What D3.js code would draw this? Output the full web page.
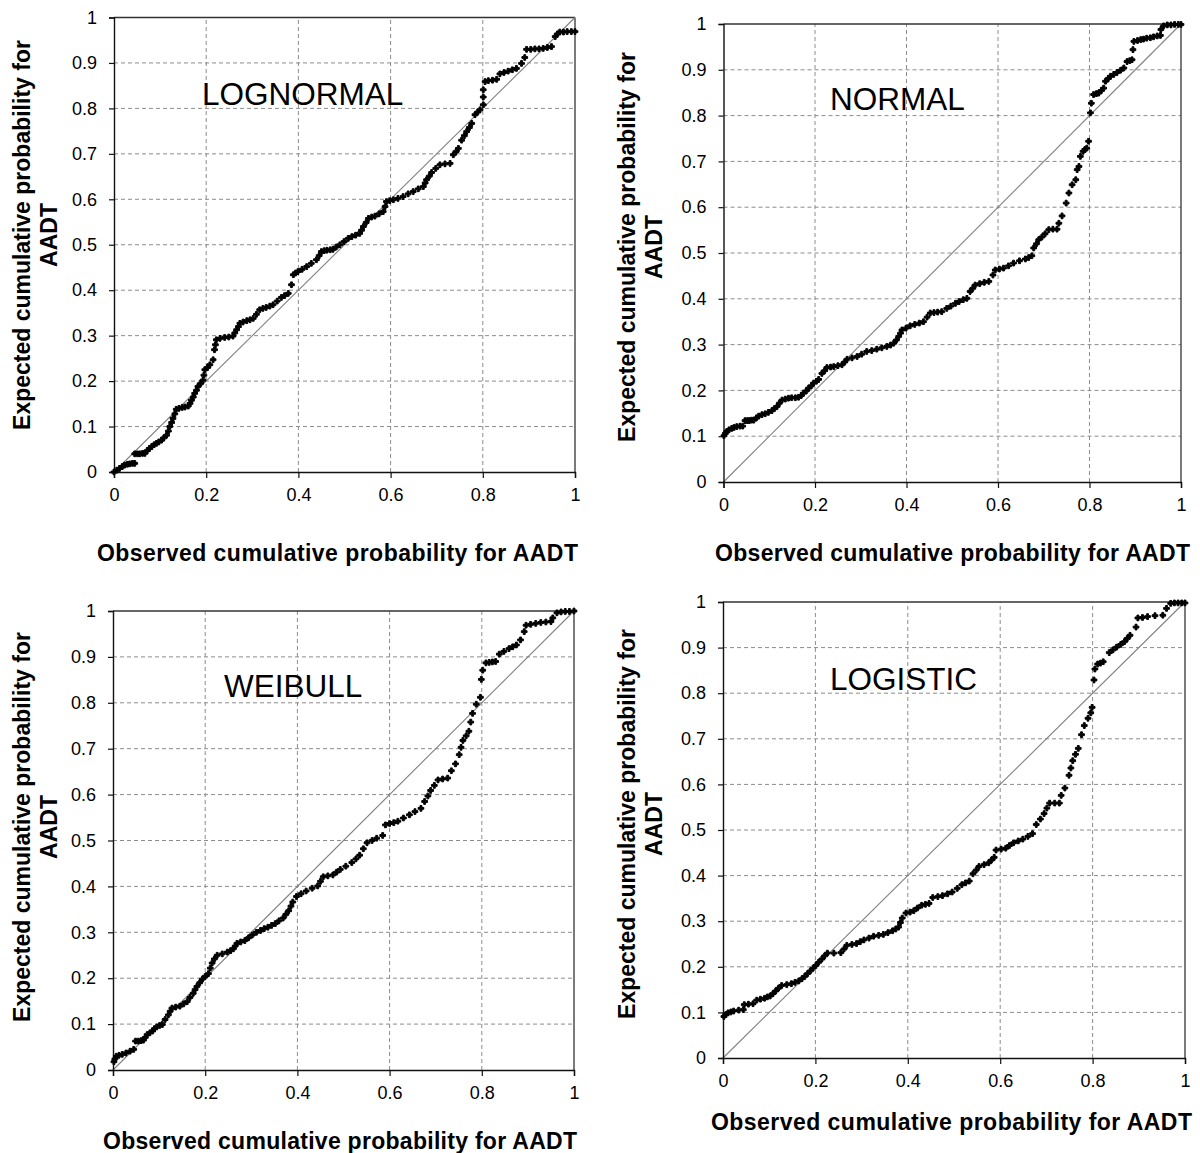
<!DOCTYPE html>
<html><head><meta charset="utf-8">
<script src="https://cdn.jsdelivr.net/npm/d3@7"></script>
<style>body{margin:0;background:#fff}svg{display:block}</style>
</head><body>
<svg id="chart" width="1200" height="1153"></svg>
<script>
// ---------- DATA ----------
const yTickLabels = ["0","0.1","0.2","0.3","0.4","0.5","0.6","0.7","0.8","0.9","1"];
const xTickLabels = ["0","0.2","0.4","0.6","0.8","1"];
const panelNames = ["LOGNORMAL","NORMAL","WEIBULL","LOGISTIC"];
const xTitle = "Observed cumulative probability for AADT";
const yTitle1 = "Expected cumulative probability for";
const yTitle2 = "AADT";

// [observed, expected]
const lognormalPoints = [[0,0],[0.006,0.004],[0.012,0.008],[0.018,0.012],[0.023,0.015],[0.029,0.017],[0.034,0.018],[0.040,0.019],[0.045,0.019],[0.045,0.040],[0.051,0.040],[0.056,0.040],[0.062,0.041],[0.067,0.041],[0.072,0.047],[0.077,0.052],[0.082,0.056],[0.087,0.060],[0.092,0.063],[0.097,0.066],[0.103,0.070],[0.108,0.075],[0.114,0.081],[0.118,0.090],[0.121,0.100],[0.125,0.109],[0.128,0.118],[0.132,0.128],[0.135,0.138],[0.141,0.140],[0.148,0.142],[0.154,0.143],[0.161,0.145],[0.165,0.151],[0.168,0.158],[0.172,0.165],[0.175,0.173],[0.179,0.180],[0.182,0.188],[0.188,0.195],[0.193,0.202],[0.195,0.213],[0.197,0.225],[0.203,0.230],[0.208,0.236],[0.215,0.247],[0.218,0.269],[0.220,0.280],[0.222,0.291],[0.230,0.294],[0.240,0.296],[0.249,0.297],[0.258,0.299],[0.262,0.306],[0.266,0.313],[0.270,0.320],[0.273,0.327],[0.280,0.330],[0.288,0.333],[0.295,0.335],[0.302,0.338],[0.309,0.347],[0.316,0.357],[0.323,0.360],[0.330,0.362],[0.338,0.365],[0.345,0.368],[0.354,0.376],[0.363,0.384],[0.370,0.388],[0.378,0.393],[0.385,0.412],[0.389,0.434],[0.394,0.438],[0.399,0.441],[0.408,0.446],[0.418,0.452],[0.428,0.459],[0.439,0.467],[0.445,0.476],[0.450,0.485],[0.456,0.487],[0.462,0.488],[0.469,0.489],[0.475,0.490],[0.482,0.495],[0.490,0.500],[0.499,0.507],[0.508,0.514],[0.516,0.518],[0.524,0.521],[0.533,0.525],[0.537,0.532],[0.541,0.540],[0.547,0.549],[0.552,0.558],[0.559,0.561],[0.566,0.563],[0.575,0.568],[0.584,0.573],[0.588,0.584],[0.591,0.595],[0.598,0.597],[0.606,0.599],[0.616,0.602],[0.627,0.606],[0.638,0.612],[0.649,0.617],[0.660,0.623],[0.671,0.628],[0.675,0.636],[0.678,0.643],[0.684,0.651],[0.689,0.659],[0.698,0.668],[0.707,0.676],[0.718,0.678],[0.729,0.679],[0.736,0.698],[0.742,0.705],[0.747,0.712],[0.754,0.730],[0.760,0.740],[0.765,0.749],[0.771,0.758],[0.776,0.767],[0.783,0.786],[0.789,0.792],[0.794,0.797],[0.801,0.808],[0.801,0.825],[0.801,0.841],[0.805,0.859],[0.812,0.861],[0.821,0.862],[0.830,0.864],[0.837,0.876],[0.846,0.879],[0.855,0.882],[0.864,0.885],[0.873,0.888],[0.884,0.899],[0.891,0.912],[0.895,0.930],[0.904,0.930],[0.913,0.931],[0.922,0.931],[0.931,0.932],[0.940,0.934],[0.949,0.936],[0.957,0.958],[0.962,0.964],[0.967,0.968],[0.975,0.968],[0.983,0.969],[0.992,0.969],[1.0,0.969]];

const normalPoints = [[0.001,0.101],[0.004,0.106],[0.007,0.110],[0.012,0.114],[0.018,0.117],[0.023,0.119],[0.029,0.121],[0.036,0.122],[0.042,0.122],[0.047,0.134],[0.052,0.134],[0.056,0.134],[0.061,0.135],[0.066,0.135],[0.072,0.140],[0.077,0.144],[0.084,0.147],[0.091,0.149],[0.098,0.152],[0.106,0.156],[0.111,0.160],[0.117,0.165],[0.122,0.172],[0.128,0.179],[0.135,0.181],[0.142,0.183],[0.149,0.184],[0.157,0.184],[0.164,0.185],[0.170,0.189],[0.175,0.194],[0.181,0.199],[0.186,0.205],[0.192,0.210],[0.197,0.216],[0.203,0.220],[0.208,0.224],[0.215,0.237],[0.221,0.243],[0.226,0.250],[0.234,0.251],[0.241,0.252],[0.250,0.254],[0.259,0.256],[0.265,0.262],[0.270,0.268],[0.281,0.271],[0.292,0.274],[0.302,0.279],[0.313,0.285],[0.324,0.287],[0.335,0.290],[0.346,0.293],[0.357,0.296],[0.365,0.299],[0.372,0.303],[0.378,0.310],[0.383,0.318],[0.387,0.325],[0.390,0.332],[0.399,0.336],[0.408,0.341],[0.418,0.344],[0.428,0.347],[0.437,0.350],[0.445,0.360],[0.452,0.369],[0.460,0.370],[0.468,0.371],[0.477,0.372],[0.488,0.379],[0.497,0.384],[0.507,0.390],[0.515,0.394],[0.524,0.398],[0.532,0.401],[0.539,0.416],[0.545,0.423],[0.550,0.430],[0.560,0.433],[0.570,0.436],[0.580,0.438],[0.589,0.452],[0.594,0.463],[0.603,0.465],[0.612,0.467],[0.623,0.472],[0.634,0.478],[0.647,0.483],[0.660,0.487],[0.667,0.490],[0.674,0.494],[0.678,0.511],[0.684,0.520],[0.689,0.529],[0.696,0.535],[0.703,0.542],[0.711,0.551],[0.720,0.552],[0.729,0.552],[0.733,0.565],[0.740,0.581],[0.749,0.609],[0.755,0.631],[0.762,0.649],[0.770,0.660],[0.773,0.682],[0.777,0.689],[0.780,0.711],[0.786,0.722],[0.790,0.726],[0.794,0.729],[0.798,0.744],[0.802,0.806],[0.804,0.827],[0.809,0.846],[0.815,0.848],[0.820,0.849],[0.826,0.855],[0.831,0.860],[0.835,0.875],[0.841,0.881],[0.846,0.886],[0.853,0.890],[0.860,0.894],[0.868,0.899],[0.875,0.904],[0.882,0.918],[0.888,0.920],[0.893,0.922],[0.895,0.944],[0.897,0.962],[0.905,0.964],[0.912,0.966],[0.918,0.967],[0.925,0.969],[0.933,0.970],[0.940,0.972],[0.948,0.974],[0.955,0.975],[0.956,0.988],[0.962,0.996],[0.970,0.998],[0.978,0.998],[0.986,0.999],[0.994,0.999],[1.0,0.999]];

const weibullPoints = [[0.002,0.018],[0.004,0.024],[0.007,0.030],[0.013,0.032],[0.020,0.034],[0.028,0.037],[0.037,0.041],[0.045,0.045],[0.049,0.063],[0.055,0.063],[0.061,0.064],[0.066,0.065],[0.070,0.071],[0.074,0.077],[0.080,0.081],[0.086,0.085],[0.090,0.090],[0.095,0.094],[0.101,0.097],[0.107,0.099],[0.113,0.110],[0.120,0.120],[0.124,0.128],[0.128,0.135],[0.136,0.137],[0.145,0.139],[0.153,0.144],[0.161,0.149],[0.167,0.158],[0.174,0.167],[0.178,0.175],[0.182,0.182],[0.188,0.190],[0.194,0.198],[0.200,0.204],[0.207,0.210],[0.211,0.222],[0.215,0.233],[0.220,0.242],[0.226,0.250],[0.237,0.253],[0.248,0.257],[0.255,0.260],[0.261,0.264],[0.265,0.270],[0.269,0.276],[0.277,0.279],[0.286,0.282],[0.294,0.288],[0.302,0.294],[0.311,0.300],[0.320,0.304],[0.328,0.308],[0.336,0.311],[0.344,0.315],[0.352,0.319],[0.360,0.325],[0.369,0.331],[0.375,0.339],[0.381,0.347],[0.386,0.357],[0.390,0.366],[0.398,0.378],[0.408,0.384],[0.419,0.390],[0.432,0.396],[0.444,0.401],[0.450,0.411],[0.456,0.421],[0.466,0.423],[0.477,0.425],[0.485,0.431],[0.493,0.437],[0.505,0.444],[0.518,0.452],[0.527,0.460],[0.535,0.468],[0.543,0.482],[0.551,0.495],[0.562,0.500],[0.572,0.505],[0.585,0.511],[0.591,0.534],[0.600,0.537],[0.609,0.539],[0.618,0.542],[0.630,0.549],[0.643,0.556],[0.655,0.563],[0.668,0.570],[0.676,0.585],[0.683,0.597],[0.689,0.609],[0.697,0.620],[0.705,0.632],[0.715,0.634],[0.726,0.636],[0.734,0.652],[0.743,0.667],[0.751,0.687],[0.755,0.703],[0.759,0.718],[0.766,0.728],[0.772,0.738],[0.776,0.758],[0.780,0.777],[0.788,0.797],[0.797,0.812],[0.799,0.851],[0.802,0.871],[0.809,0.887],[0.816,0.888],[0.823,0.889],[0.830,0.890],[0.838,0.906],[0.848,0.912],[0.859,0.918],[0.867,0.922],[0.875,0.926],[0.884,0.937],[0.892,0.955],[0.896,0.969],[0.906,0.971],[0.917,0.973],[0.928,0.975],[0.939,0.976],[0.950,0.977],[0.954,0.985],[0.963,0.996],[0.972,0.998],[0.981,0.999],[0.990,0.999],[1.0,1.0]];

const logisticPoints = [[0.002,0.091],[0.006,0.095],[0.011,0.099],[0.017,0.101],[0.023,0.103],[0.034,0.105],[0.044,0.106],[0.046,0.117],[0.055,0.118],[0.065,0.119],[0.073,0.127],[0.081,0.129],[0.090,0.131],[0.096,0.134],[0.102,0.136],[0.108,0.141],[0.114,0.147],[0.120,0.153],[0.127,0.159],[0.138,0.161],[0.148,0.163],[0.156,0.166],[0.164,0.169],[0.171,0.174],[0.177,0.179],[0.183,0.185],[0.189,0.191],[0.195,0.197],[0.201,0.203],[0.207,0.210],[0.214,0.217],[0.220,0.224],[0.226,0.230],[0.240,0.230],[0.255,0.231],[0.262,0.239],[0.268,0.247],[0.279,0.249],[0.289,0.251],[0.297,0.255],[0.305,0.259],[0.316,0.263],[0.326,0.267],[0.337,0.269],[0.347,0.271],[0.357,0.275],[0.367,0.279],[0.374,0.283],[0.380,0.287],[0.384,0.297],[0.388,0.307],[0.396,0.318],[0.405,0.320],[0.413,0.323],[0.421,0.329],[0.430,0.335],[0.438,0.337],[0.446,0.339],[0.454,0.352],[0.465,0.354],[0.475,0.356],[0.486,0.360],[0.496,0.364],[0.507,0.372],[0.517,0.380],[0.525,0.384],[0.533,0.388],[0.541,0.404],[0.548,0.412],[0.554,0.420],[0.565,0.424],[0.575,0.428],[0.581,0.434],[0.587,0.440],[0.591,0.456],[0.602,0.458],[0.612,0.460],[0.620,0.466],[0.629,0.472],[0.639,0.476],[0.649,0.480],[0.660,0.486],[0.670,0.492],[0.678,0.512],[0.687,0.524],[0.695,0.536],[0.701,0.548],[0.707,0.559],[0.718,0.559],[0.728,0.559],[0.732,0.576],[0.740,0.592],[0.749,0.620],[0.753,0.636],[0.757,0.652],[0.763,0.666],[0.769,0.679],[0.776,0.709],[0.782,0.729],[0.790,0.745],[0.796,0.757],[0.799,0.769],[0.803,0.829],[0.805,0.853],[0.811,0.864],[0.817,0.866],[0.823,0.869],[0.836,0.889],[0.844,0.895],[0.852,0.901],[0.861,0.907],[0.869,0.913],[0.875,0.920],[0.881,0.927],[0.894,0.945],[0.898,0.965],[0.908,0.966],[0.919,0.968],[0.935,0.970],[0.952,0.971],[0.960,0.986],[0.969,0.997],[0.977,0.998],[0.985,0.998],[0.993,0.998],[1.0,0.998]];

// ---------- LAYOUT ----------
const panels = [
  {name:panelNames[0], pts:lognormalPoints, x0:114, x1:575, yb:472, yt:17.5, tx:202, ty:105, titleY:561, titleX:337.5, titleW:481, ytx:30, ytx2:57, ytc:235},
  {name:panelNames[1], pts:normalPoints, x0:723.5, x1:1181, yb:482, yt:24, tx:830, ty:110, titleY:561, titleX:952.5, titleW:475, ytx:635, ytx2:662, ytc:247},
  {name:panelNames[2], pts:weibullPoints, x0:113, x1:574, yb:1070, yt:611, tx:224, ty:697, titleY:1149, titleX:340, titleW:474, ytx:30, ytx2:57, ytc:827},
  {name:panelNames[3], pts:logisticPoints, x0:723, x1:1185, yb:1058, yt:602, tx:830, ty:690, titleY:1130, titleX:951.5, titleW:481, ytx:635, ytx2:662, ytc:824}
];

const svg = d3.select("#chart");
const FONT = "'Liberation Sans', Arial, sans-serif";

panels.forEach(p => {
  const x = d3.scaleLinear().domain([0,1]).range([p.x0, p.x1]);
  const y = d3.scaleLinear().domain([0,1]).range([p.yb, p.yt]);
  const g = svg.append("g");

  const yVals = yTickLabels.map(Number);
  const xVals = xTickLabels.map(Number);
  g.selectAll(".hg").data(yVals.filter(v => v > 0 && v < 1)).enter().append("line")
    .attr("x1", p.x0).attr("x2", p.x1).attr("y1", d => y(d)).attr("y2", d => y(d))
    .attr("stroke", "#8c8c8c").attr("stroke-width", 1).attr("stroke-dasharray", "4,3");
  g.selectAll(".vg").data(xVals.filter(v => v > 0 && v < 1)).enter().append("line")
    .attr("y1", p.yb).attr("y2", p.yt).attr("x1", d => x(d)).attr("x2", d => x(d))
    .attr("stroke", "#8c8c8c").attr("stroke-width", 1).attr("stroke-dasharray", "4,3");

  g.append("line").attr("x1", p.x0).attr("x2", p.x1).attr("y1", p.yt).attr("y2", p.yt).attr("stroke", "#333").attr("stroke-width", 1.3);
  g.append("line").attr("x1", p.x1).attr("x2", p.x1).attr("y1", p.yt).attr("y2", p.yb).attr("stroke", "#333").attr("stroke-width", 1.3);

  g.append("line").attr("x1", x(0)).attr("y1", y(0)).attr("x2", x(1)).attr("y2", y(1))
    .attr("stroke", "#808080").attr("stroke-width", 1.1);

  const yAxis = d3.axisLeft(y).tickValues(yVals).tickFormat((d,i) => yTickLabels[i]).tickSize(5).tickPadding(12);
  const xAxis = d3.axisBottom(x).tickValues(xVals).tickFormat((d,i) => xTickLabels[i]).tickSize(6).tickPadding(10);
  const ya = g.append("g").attr("transform", `translate(${p.x0},0)`).call(yAxis);
  const xa = g.append("g").attr("transform", `translate(0,${p.yb})`).call(xAxis);
  [ya, xa].forEach(a => {
    a.select(".domain").attr("stroke", "#111").attr("stroke-width", 1.4);
    a.selectAll(".tick line").attr("stroke", "#111").attr("stroke-width", 1.2);
    a.selectAll("text").attr("font-family", FONT).attr("font-size", 18).attr("fill", "#000");
  });

  const sym = d3.symbol().type(d3.symbolCross).size(18);
  g.selectAll(".pt").data(p.pts).enter().append("path")
    .attr("d", sym)
    .attr("transform", d => `translate(${x(d[0])},${y(d[1])})`)
    .attr("fill", "#000").attr("stroke", "#000").attr("stroke-width", 1);

  g.append("text").attr("x", p.tx).attr("y", p.ty).text(p.name)
    .attr("font-family", FONT).attr("font-size", 31.5).attr("fill", "#000");

  g.append("text").attr("x", p.titleX).attr("y", p.titleY).attr("text-anchor", "middle").text(xTitle)
    .attr("textLength", p.titleW).attr("lengthAdjust", "spacing")
    .attr("font-family", FONT).attr("font-size", 23).attr("font-weight", "bold").attr("fill", "#000");
  g.append("text").attr("transform", `translate(${p.ytx},${p.ytc}) rotate(-90)`).attr("text-anchor", "middle").text(yTitle1)
    .attr("font-family", FONT).attr("font-size", 23).attr("font-weight", "bold").attr("fill", "#000");
  g.append("text").attr("transform", `translate(${p.ytx2},${p.ytc}) rotate(-90)`).attr("text-anchor", "middle").text(yTitle2)
    .attr("font-family", FONT).attr("font-size", 23).attr("font-weight", "bold").attr("fill", "#000");
});
</script>
</body></html>
